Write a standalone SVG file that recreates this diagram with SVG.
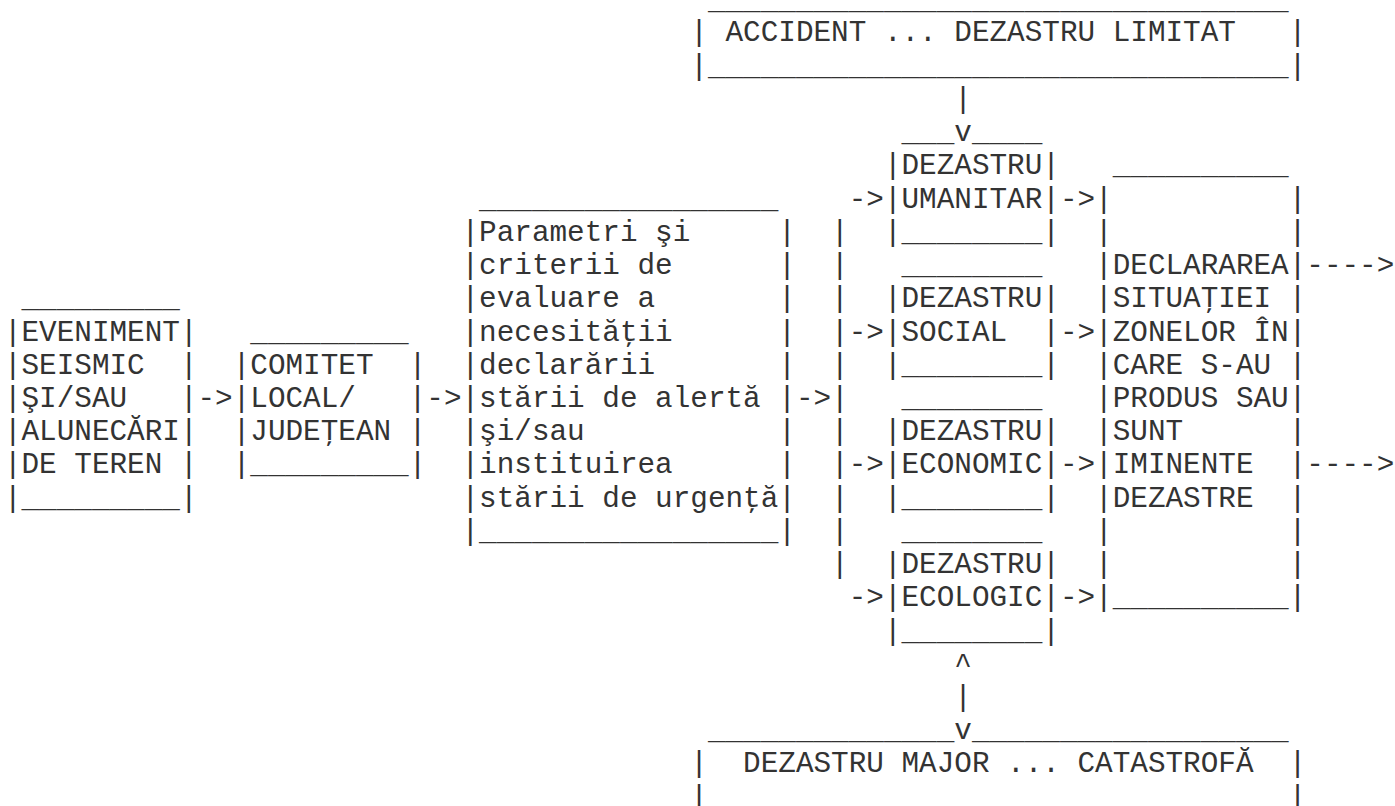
<svg xmlns="http://www.w3.org/2000/svg" width="1395" height="806" viewBox="0 0 1395 806" xml:space="preserve">
<style>
.t { font-family: "Liberation Mono", "Courier New", "DejaVu Sans Mono", monospace; font-size: 29.33px; fill: #333; white-space: pre; }
</style>
<rect x="0" y="0" width="1395" height="806" fill="#ffffff"/>
<g id="n-accident">
<text class="t" x="707.9" y="9.2">_________________________________</text>
<text class="t" x="690.3" y="41.43">| ACCIDENT ... DEZASTRU LIMITAT   |</text>
<text class="t" x="690.3" y="74.66">|_________________________________|</text>
</g>
<g id="n-eveniment">
<text class="t" x="21.5" y="307.27">_________</text>
<text class="t" x="3.9" y="340.5">|EVENIMENT|</text>
<text class="t" x="3.9" y="373.73">|SEISMIC  |</text>
<text class="t" x="3.9" y="406.96">|ŞI/SAU   |</text>
<text class="t" x="3.9" y="440.19">|ALUNECĂRI|</text>
<text class="t" x="3.9" y="473.42">|DE TEREN |</text>
<text class="t" x="3.9" y="506.65">|_________|</text>
</g>
<g id="n-comitet">
<text class="t" x="250.3" y="340.5">_________</text>
<text class="t" x="232.7" y="373.73">|COMITET  |</text>
<text class="t" x="232.7" y="406.96">|LOCAL/   |</text>
<text class="t" x="232.7" y="440.19">|JUDEŢEAN |</text>
<text class="t" x="232.7" y="473.42">|_________|</text>
</g>
<g id="n-parametri">
<text class="t" x="479.1" y="207.58">_________________</text>
<text class="t" x="461.5" y="240.81">|Parametri şi     |</text>
<text class="t" x="461.5" y="274.04">|criterii de      |</text>
<text class="t" x="461.5" y="307.27">|evaluare a       |</text>
<text class="t" x="461.5" y="340.5">|necesităţii      |</text>
<text class="t" x="461.5" y="373.73">|declarării       |</text>
<text class="t" x="461.5" y="406.96">|stării de alertă |</text>
<text class="t" x="461.5" y="440.19">|şi/sau           |</text>
<text class="t" x="461.5" y="473.42">|instituirea      |</text>
<text class="t" x="461.5" y="506.65">|stării de urgenţă|</text>
<text class="t" x="461.5" y="539.88">|_________________|</text>
</g>
<g id="n-umanitar">
<text class="t" x="901.5" y="141.12">___</text>
<text class="t" x="971.9" y="141.12">____</text>
<text class="t" x="883.9" y="174.35">|DEZASTRU|</text>
<text class="t" x="883.9" y="207.58">|UMANITAR|</text>
<text class="t" x="883.9" y="240.81">|________|</text>
</g>
<g id="n-social">
<text class="t" x="901.5" y="274.04">________</text>
<text class="t" x="883.9" y="307.27">|DEZASTRU|</text>
<text class="t" x="883.9" y="340.5">|SOCIAL  |</text>
<text class="t" x="883.9" y="373.73">|________|</text>
</g>
<g id="n-economic">
<text class="t" x="901.5" y="406.96">________</text>
<text class="t" x="883.9" y="440.19">|DEZASTRU|</text>
<text class="t" x="883.9" y="473.42">|ECONOMIC|</text>
<text class="t" x="883.9" y="506.65">|________|</text>
</g>
<g id="n-ecologic">
<text class="t" x="901.5" y="539.88">________</text>
<text class="t" x="883.9" y="573.11">|DEZASTRU|</text>
<text class="t" x="883.9" y="606.34">|ECOLOGIC|</text>
<text class="t" x="883.9" y="639.57">|________|</text>
</g>
<g id="n-declararea">
<text class="t" x="1112.7" y="174.35">__________</text>
<text class="t" x="1095.1" y="207.58">|          |</text>
<text class="t" x="1095.1" y="240.81">|          |</text>
<text class="t" x="1095.1" y="274.04">|DECLARAREA|</text>
<text class="t" x="1095.1" y="307.27">|SITUAŢIEI |</text>
<text class="t" x="1095.1" y="340.5">|ZONELOR ÎN|</text>
<text class="t" x="1095.1" y="373.73">|CARE S-AU |</text>
<text class="t" x="1095.1" y="406.96">|PRODUS SAU|</text>
<text class="t" x="1095.1" y="440.19">|SUNT      |</text>
<text class="t" x="1095.1" y="473.42">|IMINENTE  |</text>
<text class="t" x="1095.1" y="506.65">|DEZASTRE  |</text>
<text class="t" x="1095.1" y="539.88">|          |</text>
<text class="t" x="1095.1" y="573.11">|          |</text>
<text class="t" x="1095.1" y="606.34">|__________|</text>
</g>
<g id="n-major">
<text class="t" x="707.9" y="739.26">______________</text>
<text class="t" x="971.9" y="739.26">__________________</text>
<text class="t" x="690.3" y="772.49">|  DEZASTRU MAJOR ... CATASTROFĂ  |</text>
<text class="t" x="690.3" y="805.72">|</text>
<text class="t" x="1288.7" y="805.72">|</text>
</g>
<g id="connectors">
<text class="t" x="197.5" y="406.96">-&gt;</text>
<text class="t" x="426.3" y="406.96">-&gt;</text>
<text class="t" x="795.9" y="406.96">-&gt;</text>
<text class="t" x="831.1" y="240.81">|</text>
<text class="t" x="831.1" y="274.04">|</text>
<text class="t" x="831.1" y="307.27">|</text>
<text class="t" x="831.1" y="340.5">|</text>
<text class="t" x="831.1" y="373.73">|</text>
<text class="t" x="831.1" y="406.96">|</text>
<text class="t" x="831.1" y="440.19">|</text>
<text class="t" x="831.1" y="473.42">|</text>
<text class="t" x="831.1" y="506.65">|</text>
<text class="t" x="831.1" y="539.88">|</text>
<text class="t" x="831.1" y="573.11">|</text>
<text class="t" x="848.7" y="207.58">-&gt;</text>
<text class="t" x="848.7" y="340.5">-&gt;</text>
<text class="t" x="848.7" y="473.42">-&gt;</text>
<text class="t" x="848.7" y="606.34">-&gt;</text>
<text class="t" x="1059.9" y="207.58">-&gt;</text>
<text class="t" x="1059.9" y="340.5">-&gt;</text>
<text class="t" x="1059.9" y="473.42">-&gt;</text>
<text class="t" x="1059.9" y="606.34">-&gt;</text>
<text class="t" x="1306.3" y="274.04">----&gt;</text>
<text class="t" x="1306.3" y="473.42">----&gt;</text>
<text class="t" x="954.3" y="107.89">|</text>
<text class="t" x="954.3" y="141.12">v</text>
<text class="t" x="954.3" y="672.8">^</text>
<text class="t" x="954.3" y="706.03">|</text>
<text class="t" x="954.3" y="739.26">v</text>
</g>
</svg>
